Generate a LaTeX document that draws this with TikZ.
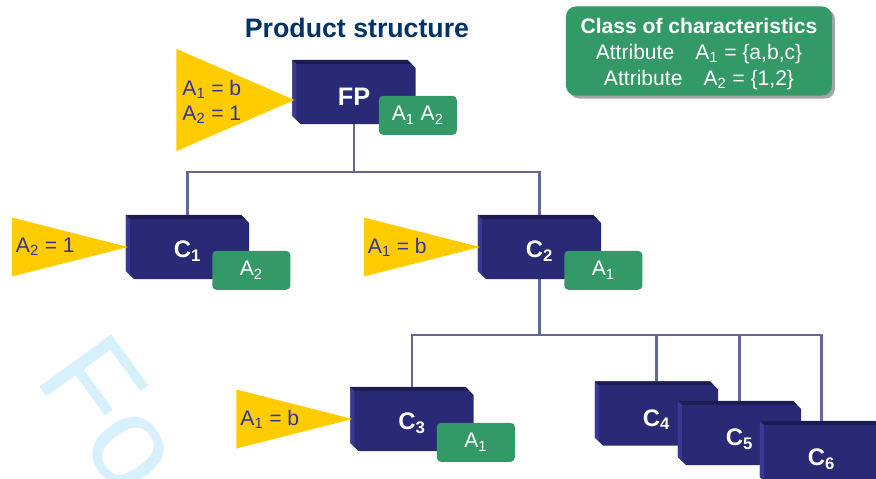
\documentclass[tikz,border=0pt]{standalone}
\usepackage{fontspec}
\setmainfont{Liberation Sans}
\usepackage{tikz}
\usetikzlibrary{positioning,shapes,shapes.geometric,shapes.misc,shadows}

\definecolor{partblue}{RGB}{41,41,118}
\definecolor{parttop}{RGB}{28,28,80}
\definecolor{partleft}{RGB}{58,58,150}
\definecolor{attrgreen}{RGB}{51,153,102}
\definecolor{condyellow}{RGB}{255,204,0}
\definecolor{condblue}{RGB}{51,51,153}
\definecolor{titleblue}{RGB}{0,51,102}
\definecolor{linkgray}{RGB}{102,102,153}
\definecolor{wmark}{RGB}{214,240,252}

\begin{document}
\begin{tikzpicture}[x=0.025cm,y=-0.025cm,
			part/.style = {shape=chamfered rectangle, chamfered rectangle corners={north east,south west},
				chamfered rectangle xsep=0.1cm, chamfered rectangle ysep=0.1cm,
				fill=partblue, text=white, inner sep=0pt, minimum width=3.075cm, minimum height=1.6cm,
				text height=15.5pt, text depth=0pt, font=\fontsize{17}{20}\selectfont\bfseries,
				path picture={
					\fill[parttop] (path picture bounding box.north west) rectangle ([shift={(0,4)}]path picture bounding box.north east);
					\fill[partleft] (path picture bounding box.north west) -- ([shift={(4,4)}]path picture bounding box.north west)
						-- ([shift={(4,0)}]path picture bounding box.south west) -- (path picture bounding box.south west) -- cycle;}},
			attr/.style = {shape=rectangle, fill=attrgreen, rounded corners=3pt, text=white, inner sep=0pt,
				minimum width=1.95cm, minimum height=0.975cm, font=\fontsize{15}{18}\selectfont},
			cond/.style = {shape=isosceles triangle, isosceles triangle stretches, fill=condyellow, inner sep=0pt,
				minimum width=1.475cm, minimum height=2.9cm, anchor=apex},
			condtxt/.style = {anchor=west, text=condblue, align=left, inner sep=0pt, font=\fontsize{15}{17.8}\selectfont},
			classbox/.style = {shape=rectangle, fill=attrgreen, rounded corners=0.25cm, text=white, align=center,
				minimum width=6.65cm, minimum height=2.225cm, font=\fontsize{15}{18.5}\selectfont,
				drop shadow={fill=black!35, opacity=1, shadow xshift=0.075cm, shadow yshift=-0.075cm}},
			link/.style = {draw=linkgray, line width=2pt}
			]
			\useasboundingbox (0,0) rectangle (876,479);
			% watermark
			\begin{scope}
				\clip (0,0) rectangle (876,479);
				\node [anchor=base west, rotate=-54, inner sep=0pt, text=wmark, font=\fontsize{92}{92}\selectfont] (wm) at (33,378) {Fo};
			\end{scope}
			\node [text=titleblue, font=\fontsize{19}{22}\selectfont\bfseries] (title) at (357,28) {Product structure};
			\node [classbox] (cls) at (699,51) {\rule{0pt}{15pt}\textbf{Class of characteristics}\\Attribute\quad A\textsubscript{1} = \{a,b,c\}\\Attribute\quad A\textsubscript{2} = \{1,2\}};
			% parts
			\node [part, text height=18.5pt, font=\fontsize{18}{20}\selectfont\bfseries] (fp) at (354,92) {FP};
			\node [attr] (fpattr) at ([shift={(2,-9)}]fp.south east) {A\textsubscript{1} A\textsubscript{2}};
			\node [cond, minimum width=2.55cm, minimum height=2.95cm] (fpcond) at ([shift={(3,8)}]fp.west) {};
			\node [condtxt] (fpcondtxt) at ([shift={(6,2)}]fpcond.lower side) {A\textsubscript{1} = b\\A\textsubscript{2} = 1};
			\node [part] (c1) at (187.5,247) {C\textsubscript{1}};
			\node [attr] (c1attr) at ([shift={(2,-9)}]c1.south east) {A\textsubscript{2}};
			\node [cond] (c1cond) at ([shift={(3,0)}]c1.west) {};
			\node [condtxt] (c1condtxt) at ([shift={(4,0)}]c1cond.lower side) {A\textsubscript{2} = 1};
			\node [part] (c2) at (539.5,247) {C\textsubscript{2}};
			\node [attr] (c2attr) at ([shift={(2,-9)}]c2.south east) {A\textsubscript{1}};
			\node [cond] (c2cond) at ([shift={(3,0)}]c2.west) {};
			\node [condtxt] (c2condtxt) at ([shift={(4,0)}]c2cond.lower side) {A\textsubscript{1} = b};
			\node [part] (c3) at (412,419) {C\textsubscript{3}};
			\node [attr] (c3attr) at ([shift={(2,-9)}]c3.south east) {A\textsubscript{1}};
			\node [cond] (c3cond) at ([shift={(3,0)}]c3.west) {};
			\node [condtxt] (c3condtxt) at ([shift={(4,0)}]c3cond.lower side) {A\textsubscript{1} = b};
			\node [part, text height=18pt] (c4) at (656.5,413.5) {C\textsubscript{4}};
			\node [part, text height=18pt] (c5) at (739.5,433) {C\textsubscript{5}};
			\node [part, text height=18pt] (c6) at (821.5,453) {C\textsubscript{6}};
			% links
			\coordinate (bus1) at (355,172);
			\coordinate (bus2) at (541,335);
			\draw[link] (fp.south) -- (fp.south |- bus1);
			\draw[link] (c1.north) |- (bus1) -| (c2.north);
			\draw[link] (c2.south) -- (c2.south |- bus2);
			\draw[link] (c3.north) |- (bus2) -| (c6.north);
			\draw[link] (c4.north) -- (c4.north |- bus2);
			\draw[link] (c5.north) -- (c5.north |- bus2);
		\end{tikzpicture}
\end{document}
